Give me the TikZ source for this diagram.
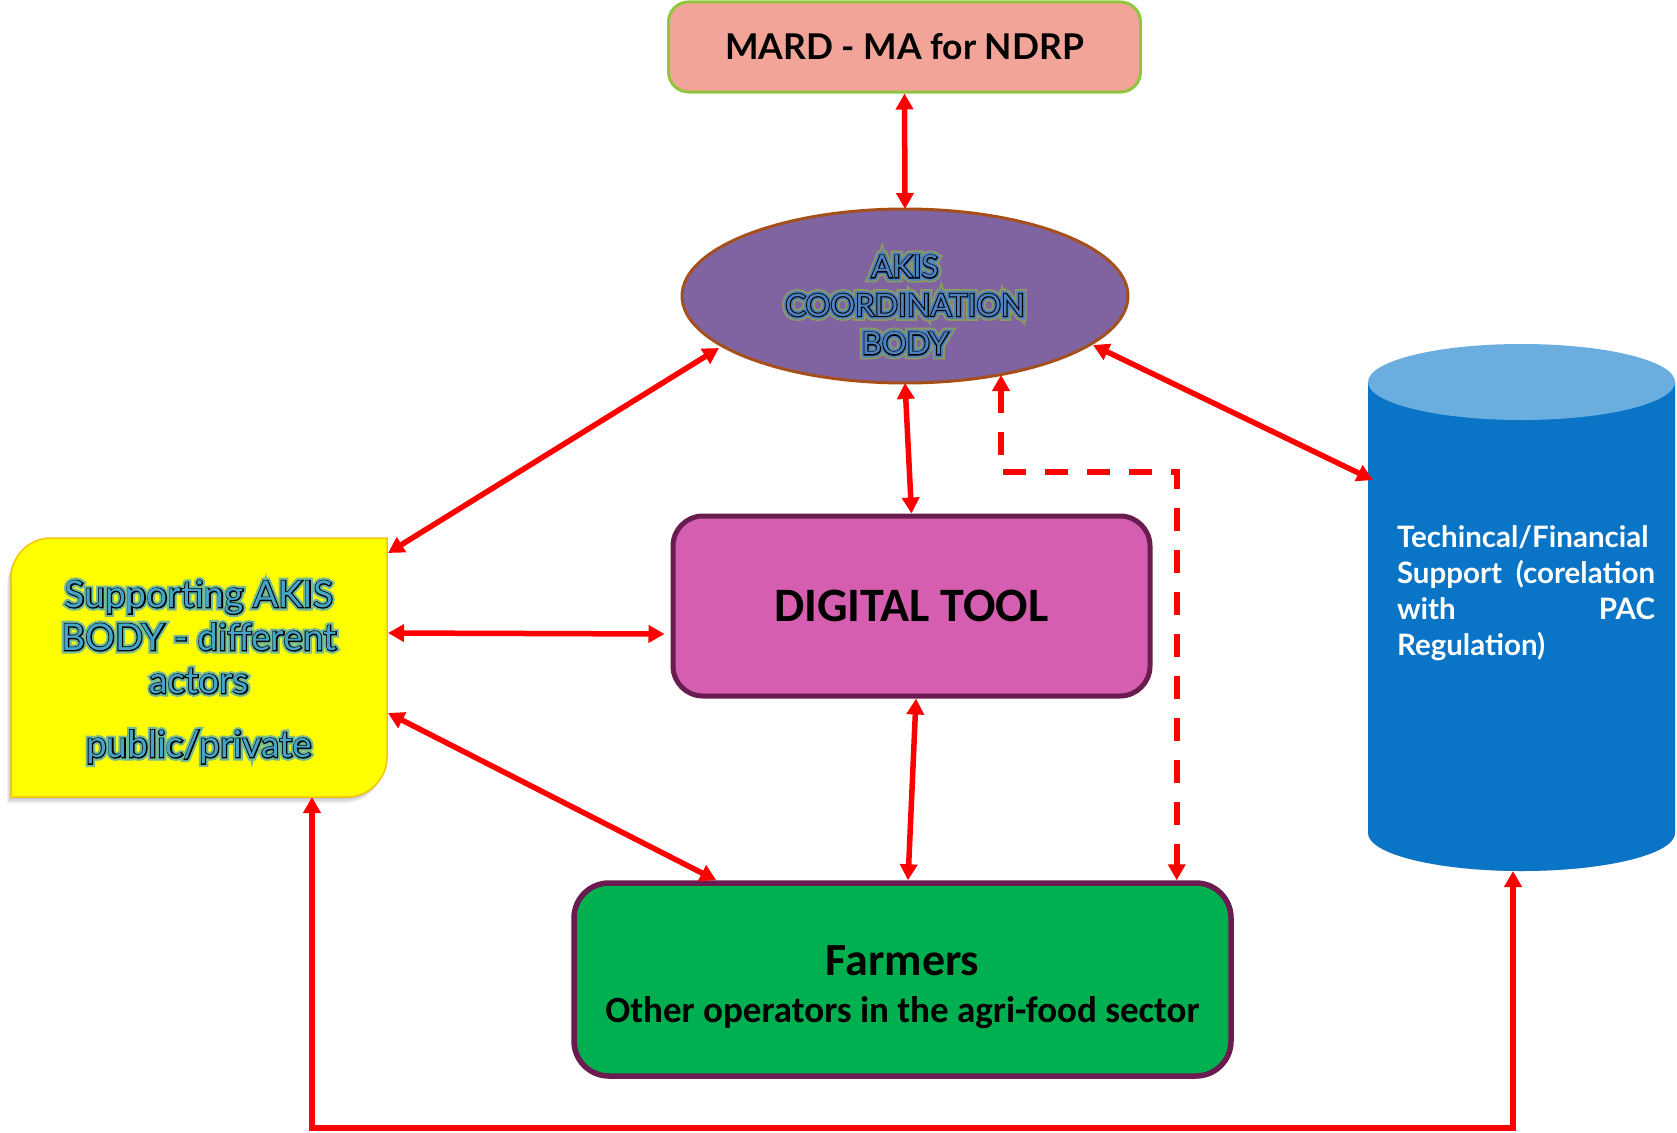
\documentclass[tikz,border=0pt]{standalone}
\usepackage{fontspec}
\newfontfamily\lato{Lato}
\newfontfamily\carl{Carlito}
% stroked copies of Lato, for the glow / outline effect of the WordArt texts
\newfontfamily\supglowfont[FakeBold=17]{Lato}
\newfontfamily\suplinefont[FakeBold=5.5]{Lato}
\newfontfamily\akisouterfont[FakeBold=30]{Lato}
\newfontfamily\akisglowfont[FakeBold=19]{Lato}
\newfontfamily\akislinefont[FakeBold=6.5]{Lato}
\usetikzlibrary{shapes.geometric,arrows.meta,calc}
\definecolor{mardfill}{HTML}{F2A498}
\definecolor{mardline}{HTML}{92C53E}
\definecolor{akisfill}{HTML}{8064A2}
\definecolor{akisline}{HTML}{A5501C}
\definecolor{digfill}{HTML}{D65EB0}
\definecolor{boxline}{HTML}{6A1B4F}
\definecolor{farmfill}{HTML}{00AF50}
\definecolor{supfill}{HTML}{FFFF00}
\definecolor{supline}{HTML}{F5C400}
\definecolor{cylbody}{HTML}{0A74C6}
\definecolor{cyltop}{HTML}{6AAEE0}
\definecolor{glowblue}{HTML}{4F81BD}
\definecolor{glowteal}{HTML}{45A5C8}
\definecolor{glowolive}{HTML}{8E9A5E}
\definecolor{arrred}{HTML}{FF0000}
\newcommand\supart[1]{\leavevmode
  \rlap{\supglowfont\color{glowteal!75!yellow}#1}%
  \rlap{\suplinefont\color{black}#1}%
  {\color{glowteal}#1}}
\newcommand\akisart[1]{\leavevmode
  \rlap{\akisouterfont\color{glowolive}#1}%
  \rlap{\akisglowfont\color{glowblue}#1}%
  \rlap{\akislinefont\color{black}#1}%
  {\color{glowblue}#1}}
\begin{document}
\begin{tikzpicture}[x=1pt,y=-1pt,
  >={Triangle[width=17pt,length=16pt]},
  conn/.style={draw=arrred, line width=5.5pt, <->},
  dconn/.style={conn, dash pattern=on 23pt off 19pt},
  box/.style={rounded corners=#1, inner sep=0pt},
  plain/.style={inner sep=0pt, outer sep=0pt}]
\useasboundingbox (0,0) rectangle (1677,1132);
\fill[white] (0,0) rectangle (1677,1132);

% ---------- yellow supporting body ----------
\foreach \s in {2,4,6}
  \fill[black,opacity=0.08,shift={(-0.6*\s,\s)}]
    (11,797) -- (11,578) .. controls (11,556) and (29,538) .. (51,538) -- (387,538)
    -- (387,757) .. controls (387,779) and (369,797) .. (347,797) -- cycle;
\filldraw[fill=supfill,draw=supline,line width=1.5pt]
    (11,797) -- (11,578) .. controls (11,556) and (29,538) .. (51,538) -- (387,538)
    -- (387,757) .. controls (387,779) and (369,797) .. (347,797) -- cycle;
\node (sup) [plain, minimum width=376pt, minimum height=259pt] at (199,667.5) {};
\node (suptext) [plain, align=center, font=\lato\fontsize{37}{43}\selectfont] at (199,672)
  {\supart{Supporting AKIS}\\
   \supart{BODY - different}\\
   \supart{actors}\\[21pt]
   \supart{public/private}};

% ---------- cylinder ----------
\node (cyl) [plain, minimum width=307pt, minimum height=451pt] at (1521.5,607.5) {};
\foreach \s in {2,4,6,8}
  \fill[black,opacity=0.06,shift={(0,\s)}]
    (cyl.north west) -- (cyl.south west)
    arc[start angle=180,end angle=360,x radius=153.5pt,y radius=38pt]
    -- (cyl.north east) -- cycle;
\fill[cylbody] (cyl.north west) -- (cyl.south west)
    arc[start angle=180,end angle=360,x radius=153.5pt,y radius=38pt]
    -- (cyl.north east) -- cycle;
\fill[cyltop] (cyl.north) ellipse[x radius=153.5pt, y radius=38pt];
\node (cyltext) [plain, anchor=north west, text width=258pt, align=left, text=white,
  font=\lato\bfseries\fontsize{29.5}{36}\selectfont] at (1397,526)
  {Techincal/Financial\\ Support\hfill(corelation\\ with\hfill PAC\\ Regulation)};

% ---------- main boxes ----------
\node (mard) [box=20pt, draw=mardline, line width=3pt, fill=mardfill,
  minimum width=472pt, minimum height=90pt,
  font=\lato\bfseries\fontsize{35.5}{40}\selectfont] at (904.5,47) {MARD - MA for NDRP};

\node (akis) [ellipse, plain, draw=akisline, line width=3pt, fill=akisfill,
  minimum width=446pt, minimum height=174pt] at (905,296) {};
\node (akistext) [plain, align=center, font=\lato\fontsize{31}{38.5}\selectfont] at (905,305)
  {\akisart{AKIS}\\ \akisart{COORDINATION}\\ \akisart{BODY}};

\node (dig) [box=30pt, draw=boxline, line width=5pt, fill=digfill,
  minimum width=477pt, minimum height=180pt,
  font=\carl\bfseries\fontsize{48}{50}\selectfont] at (911.5,606) {DIGITAL TOOL};

\node (farm) [box=35pt, draw=boxline, line width=5.5pt, fill=farmfill,
  minimum width=657pt, minimum height=193pt] at (902.5,979.5) {};
\node (farmtitle) [plain, anchor=base, font=\carl\bfseries\fontsize{46}{50}\selectfont]
  at (902.5,975) {Farmers};
\node (farmsub) [plain, anchor=base, font=\carl\bfseries\fontsize{37}{40}\selectfont]
  at (902.5,1022) {Other operators in the agri-food sector};

% ---------- connectors ----------
\draw[conn] (mard.south) -- (akis.north);
\draw[conn] ($(akis.center)+(-186,52)$) -- ($(sup.north east)+(1,15)$);
\draw[conn] (akis.south) -- (dig.north);
\draw[conn] ($(akis.center)+(188,49)$) -- ($(cyl.west)+(5,-127.5)$);
\draw[dconn] ($(akis.center)+(96,79)$) -- ++(0,97) -| ($(farm.north east)+(-57,0)$);
\draw[conn] ($(sup.east)+(1,-34.5)$) -- ($(dig.west)+(-6,28)$);
\draw[conn] ($(sup.east)+(1,45.5)$) -- ($(farm.north west)+(145,0)$);
\draw[conn] ($(dig.south)+(4.5,0)$) -- ($(farm.north)+(5.5,0)$);
\draw[conn] ($(sup.south)+(113,0)$) -- ++(0,331) -| ($(cyl.south)+(-8.5,38)$);
\end{tikzpicture}
\end{document}
